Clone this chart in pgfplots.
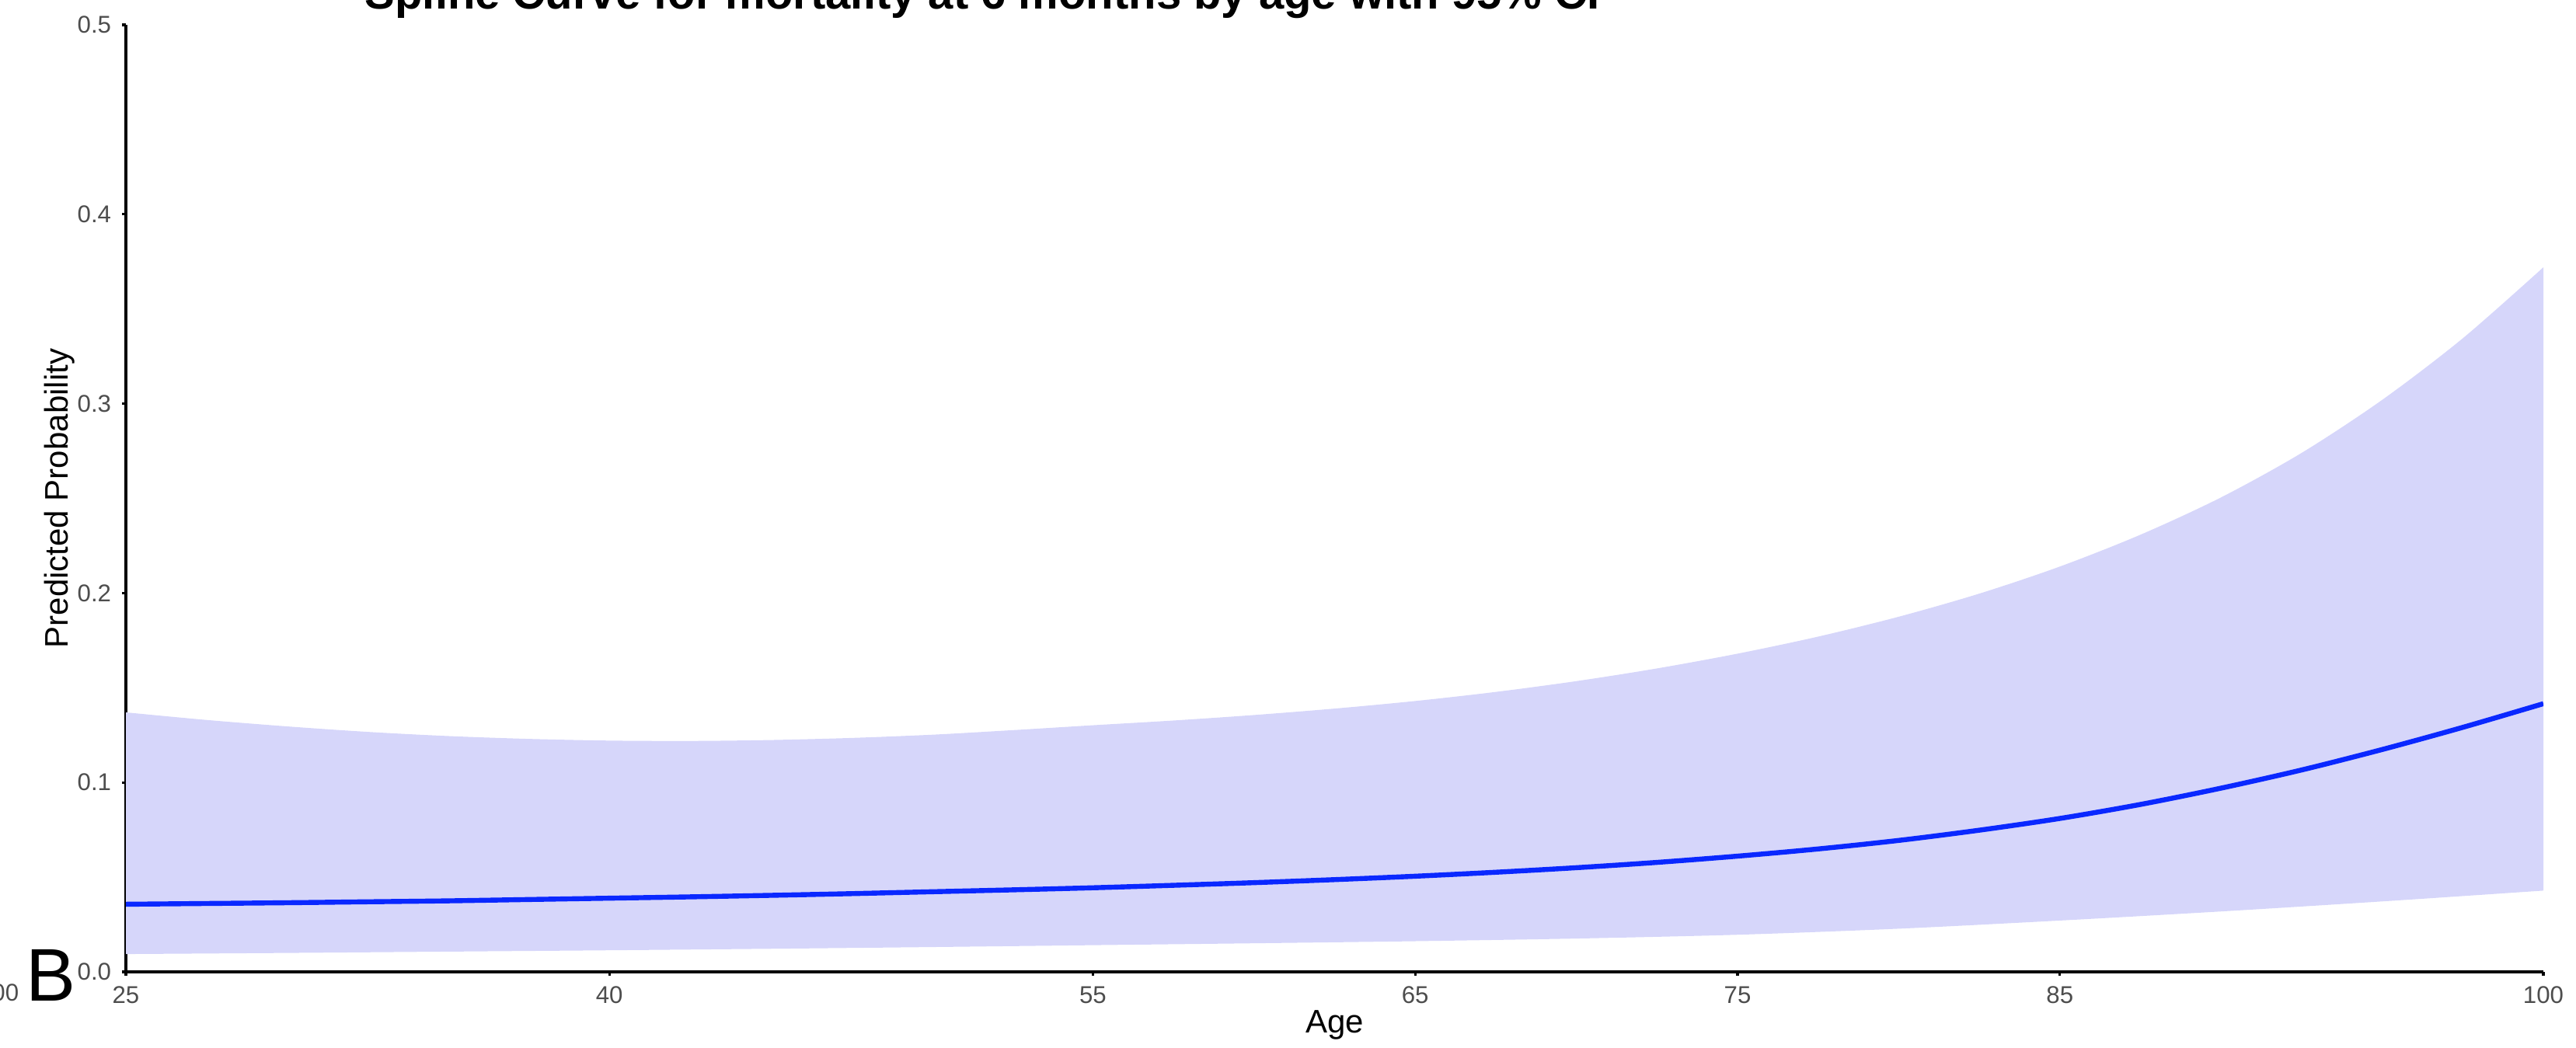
\documentclass[border=0pt]{standalone}
\usepackage{fontspec}
\setmainfont{Liberation Sans}
\usepackage{pgfplots}
\pgfplotsset{compat=1.18}
\usepgfplotslibrary{fillbetween}
\definecolor{ribbon}{RGB}{214,214,250}
\definecolor{meanline}{RGB}{10,40,255}
\definecolor{tickgray}{RGB}{77,77,77}
\begin{document}
\begin{tikzpicture}
\begin{axis}[
  scale only axis, width=777.75pt, height=304.75pt,
  at={(40.5pt,24.25pt)}, anchor=south west,
  xmin=25, xmax=100, ymin=0, ymax=0.5,
  axis x line*=bottom, axis y line*=left,
  axis line style={black, line width=1pt, -},
  xtick={25,40,55,65,75,85,100},
  ytick={0,0.1,0.2,0.3,0.4,0.5},
  yticklabel style={/pgf/number format/.cd,fixed,fixed zerofill,precision=1},
  /pgf/number format/assume math mode=true,
  tick style={black, line width=0.8pt}, tick align=outside, major tick length=1.2pt,
  ticklabel style={font=\fontsize{7.8}{9}\selectfont, text=tickgray},
  xlabel={Age}, ylabel={Predicted Probability},
  label style={font=\fontsize{10.5}{12}\selectfont, text=black},
  xlabel style={at={(axis description cs:0.5,-0.0648)}, anchor=base},
  ylabel style={at={(axis description cs:-0.02379,0.5)}, anchor=base},
]
\addplot[name path=up, draw=none, smooth] coordinates {
 (25,0.1370) (27.5,0.1330) (30,0.1296) (32.5,0.1267) (35,0.1245) (37.5,0.1230)
 (40,0.1221) (42.5,0.1219) (45,0.1224) (47.5,0.1235) (50,0.1252) (52.5,0.1276)
 (55,0.1302) (57.5,0.1327) (60,0.1356) (62.5,0.1390) (65,0.1430) (67.5,0.1478)
 (70,0.1535) (72.5,0.1602) (75,0.1680) (77.5,0.1770) (80,0.1875) (82.5,0.1997)
 (85,0.2140) (87.5,0.2308) (90,0.2505) (92.5,0.2740) (95,0.3020) (97.5,0.3345)
 (100,0.3720)};
\addplot[name path=lo, draw=none, smooth] coordinates {
 (25,0.0094) (30,0.0100) (35,0.0107) (40,0.0114) (45,0.0122) (50,0.0131)
 (55,0.0141) (60,0.0151) (65,0.0162) (70,0.0176) (75,0.0196) (80,0.0228)
 (85,0.0271) (90,0.0319) (95,0.0372) (100,0.0429)};
\addplot[ribbon, draw=none] fill between[of=up and lo];
\addplot[meanline, line width=1.6pt, smooth] coordinates {
 (25,0.0357) (27.5,0.0361) (30,0.0365) (32.5,0.0370) (35,0.0375) (37.5,0.0382)
 (40,0.0389) (42.5,0.0396) (45,0.0404) (47.5,0.0413) (50,0.0423) (52.5,0.0433)
 (55,0.0444) (57.5,0.0457) (60,0.0471) (62.5,0.0487) (65,0.0505) (67.5,0.0526)
 (70,0.0550) (72.5,0.0578) (75,0.0611) (77.5,0.0649) (80,0.0694) (82.5,0.0748)
 (85,0.0810) (87.5,0.0884) (90,0.0970) (92.5,0.1066) (95,0.1174) (97.5,0.1291)
 (100,0.1416)};
\end{axis}
\node[anchor=base west, inner sep=0, font=\bfseries\fontsize{14.5}{17}\selectfont] at (117.25pt,334pt) {Spline Curve for mortality at 6 months by age with 95\% CI};
\node[anchor=base west, inner sep=0, font=\fontsize{24}{28}\selectfont] at (8.25pt,15pt) {B};
\node[anchor=base east, inner sep=0, font=\fontsize{7.8}{9}\selectfont, text=tickgray] at (6.25pt,15pt) {100};
\pgfresetboundingbox
\path[use as bounding box] (0,0) rectangle (828.75pt,337pt);
\end{tikzpicture}
\end{document}
